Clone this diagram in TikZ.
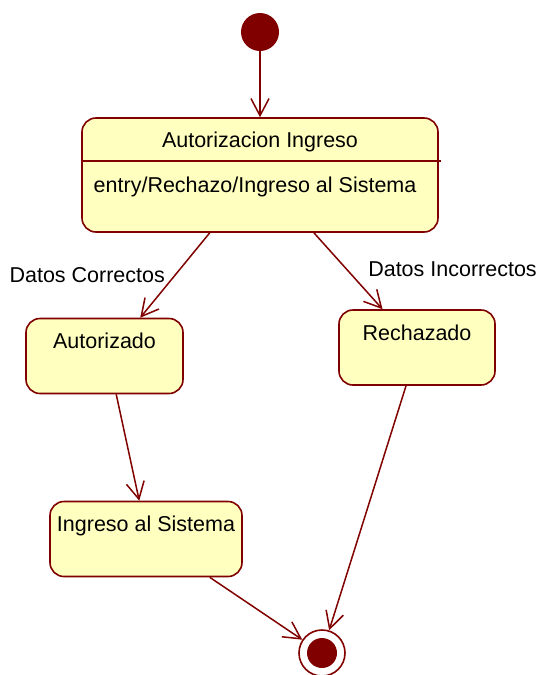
\documentclass[tikz,border=0pt]{standalone}
\usepackage{fontspec}
\setmainfont{Liberation Sans}
\usetikzlibrary{arrows.meta,positioning}
\definecolor{umlred}{HTML}{800000}
\definecolor{umlfill}{HTML}{FFFFC0}
\tikzset{
  st/.style={draw=umlred,fill=umlfill,line width=1.6pt,rounded corners=14pt,
    inner ysep=0pt,text height=30pt,text depth=45pt,font=\fontsize{21.5}{25}\selectfont},
  trans/.style={color=umlred,line width=1.5pt,-{Straight Barb[length=17pt,width=18pt]}},
  lbl/.style={text=black,font=\fontsize{21.5}{25}\selectfont}
}

\begin{document}
\begin{tikzpicture}[x=1pt,y=-1pt]
\useasboundingbox (0,0) rectangle (543,675);
                   \node[circle,fill=umlred,minimum size=38pt,inner sep=0pt] (ini) at (260,32) {};
                   \node[st,minimum width=356pt,text height=29pt,text depth=85pt] (ai) at (260,175) {Autorizacion Ingreso};
                   \draw[umlred,line width=1.5pt] ([yshift=-44pt]ai.north west) -- ([yshift=-44pt,xshift=2pt]ai.north east);
                   \node[lbl,anchor=base west] (ent) at ([xshift=9pt,yshift=-75pt]ai.north west) {entry/Rechazo/Ingreso al Sistema};
                   \node[st,minimum width=157pt] (aut) at (104.5,356) {Autorizado};
                   \node[st,minimum width=156pt] (rech) at (417,347.5) {Rechazado};
                   \node[st,minimum width=192pt] (ing) at (146,539) {Ingreso al Sistema};
                   \node[circle,draw=umlred,line width=1.6pt,fill=white,minimum size=46pt,inner sep=0pt] (fin) at (322,653) {};
                   \node[circle,fill=umlred,minimum size=30pt,inner sep=0pt] (fin_in) at (fin) {};
                    \path[trans]
                    (ini) edge (ai)
                    (ai.229) edge node[lbl,left,xshift=-6pt] {Datos Correctos} (aut.47)
                    (ai.313) edge node[lbl,right,xshift=16pt,yshift=2pt] {Datos Incorrectos} (rech.132)
                    (aut.287) edge (ing.100)
                    (rech.254) edge (fin)
                    (ing.329) edge (fin);
                \end{tikzpicture}
\end{document}
